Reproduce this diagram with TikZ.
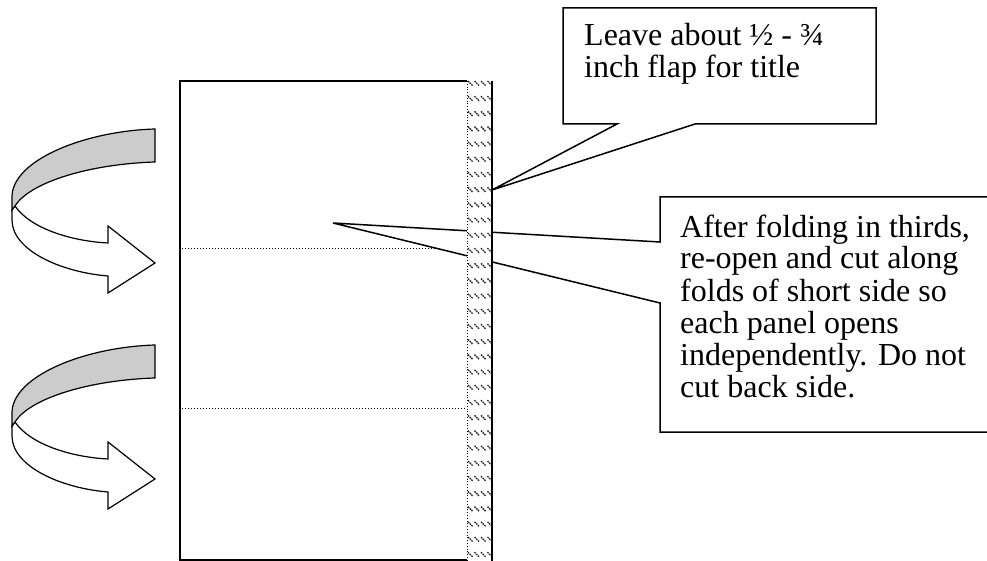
\documentclass[tikz,border=0pt]{standalone}
\usepackage{fontspec}
\setmainfont{Liberation Serif}
\begin{document}
\begin{tikzpicture}[x=1pt,y=-1pt,line join=miter,
  outl/.style={draw=black,line width=1.5pt},
  foldline/.style={draw=black,line width=1pt,dotted},
  hatch/.style={draw=black!85,line width=1.3pt,dash pattern=on 1.6pt off 0.8pt},
  ctext/.style={anchor=base west,inner sep=0pt,font=\fontsize{32}{31}\selectfont}]
\useasboundingbox (0,0) rectangle (987,561);
\clip (0,0) rectangle (987,561);
% sheet
\draw[outl] (467,81) -- (180,81) -- (180,560) -- (467,560);
\draw[foldline] (182,249) -- (467,249);
\draw[foldline] (182,408) -- (467,408);
% curved arrows
\foreach \dy/\nm in {0/a1,216/a2}{
  \begin{scope}[yshift=-\dy pt]
    \filldraw[fill=white,outl,line width=1.2pt] (15,206) -- (12,210) -- (12,220)
      .. controls (12,250) and (60,272) .. (108,276) -- (108,293) -- (155,263)
      -- (108,226) -- (108,243) .. controls (70,241) and (30,228) .. (15,206) -- cycle;
    \filldraw[fill=black!20,outl,line width=1.2pt] (155,129)
      .. controls (85,131) and (12,160) .. (12,197) -- (12,210) -- (15,206)
      .. controls (30,182) and (90,164) .. (155,162) -- cycle;
    \coordinate (\nm) at (155,263);
  \end{scope}}
% callout 1
\filldraw[fill=white,outl] (563,8) -- (876,8) -- (876,124) -- (695,124)
  -- (492,190) -- (617,124) -- (563,124) -- cycle;
\node[ctext] (c1a) at (584,46) {Leave about ½ - ¾};
\node[ctext] (c1b) at (584,78) {inch flap for title};
% callout 2
\filldraw[fill=white,outl] (660,197) -- (1000,197) -- (1000,432) -- (660,432)
  -- (660,303) -- (333,223) -- (660,242) -- cycle;
\node[ctext] (c2a) at (680,237) {After folding in thirds,};
\node[ctext] (c2b) at (680,269) {re-open and cut along};
\node[ctext] (c2c) at (680,301) {folds of short side so};
\node[ctext] (c2d) at (680,333) {each panel opens};
\node[ctext] (c2e) at (680,365) {independently. Do not};
\node[ctext] (c2f) at (680,397) {cut back side.};
% hatched flap strip
\fill[white] (467,81) rectangle (492,570);
\begin{scope}
  \clip (467,81) rectangle (492,570);
  \foreach \k in {0,...,32}{
    \foreach \xx in {468,474.5,481,487.5}{
      \draw[hatch] (\xx,81+15.2*\k) -- (\xx+5,86+15.2*\k);
    }}
\end{scope}
\draw[black,line width=0.8pt,dotted] (467,81) -- (467,570);
\draw[black,line width=1.5pt] (492,81) -- (492,570);
\end{tikzpicture}
\end{document}
